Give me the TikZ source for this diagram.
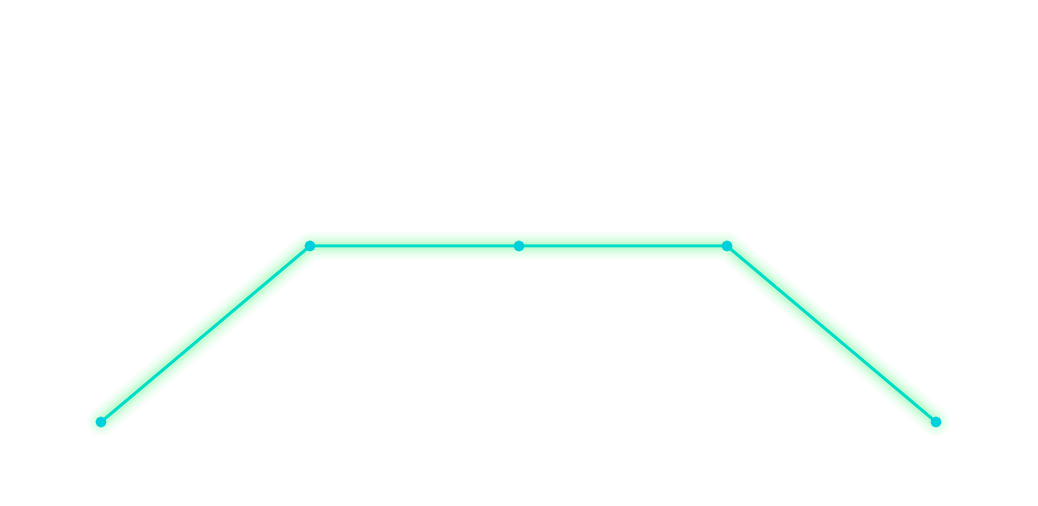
\documentclass[tikz,border=0pt]{standalone}
\usetikzlibrary{positioning}
\definecolor{linecol}{HTML}{00DEC8}
\definecolor{dotcol}{HTML}{00D0DC}
\definecolor{glowcol}{HTML}{8CF7A8}
\begin{document}
\begin{tikzpicture}[
  pt/.style={circle, fill=dotcol, inner sep=0pt, minimum size=1.1mm},
  wire/.style={draw=linecol, line width=0.85pt, line join=round},
  glow/.style={draw=glowcol, line join=round, line cap=round, opacity=#1}
]
\useasboundingbox (0,0) rectangle (10.38,5.06);
% points along the path
\coordinate (p1) at (1.01,0.84);
\coordinate (p2) at (3.10,2.60);
\coordinate (p3) at (5.19,2.60);
\coordinate (p4) at (7.27,2.60);
\coordinate (p5) at (9.36,0.84);
% soft glow under the path
\foreach \w/\o in {8pt/0.07, 6.5pt/0.09, 5pt/0.12, 3.6pt/0.16, 2.4pt/0.22}
  \draw[glow=\o, line width=\w] (p1) -- (p2) -- (p3) -- (p4) -- (p5);
\draw[wire] (p1) -- (p2) -- (p3) -- (p4) -- (p5);
\foreach \p in {p1,p2,p3,p4,p5}
  \node[pt] (d\p) at (\p) {};
\end{tikzpicture}
\end{document}
